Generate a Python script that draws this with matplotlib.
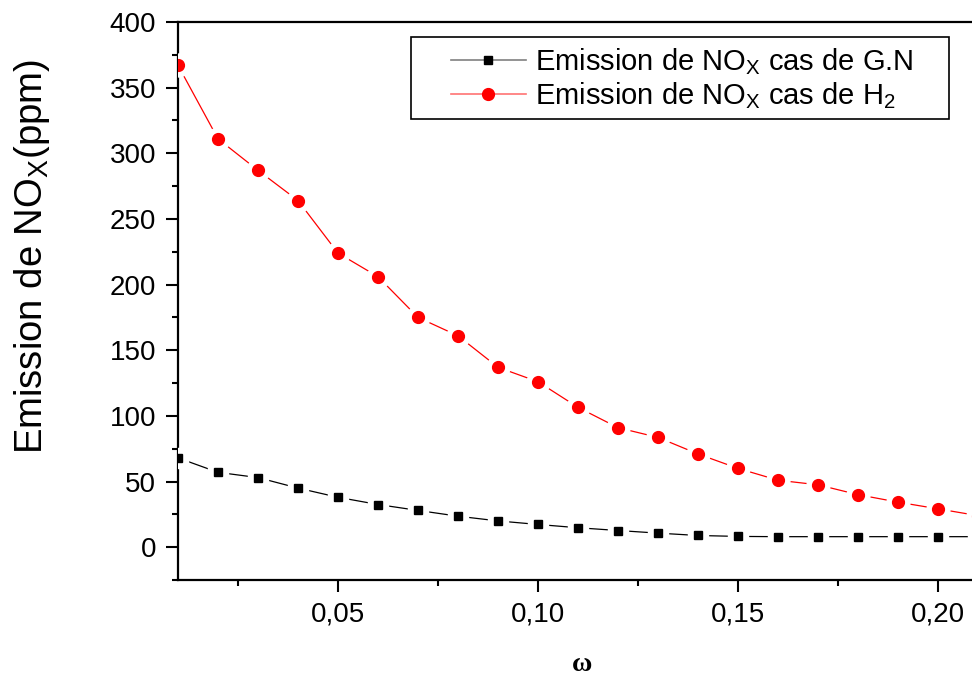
import matplotlib
matplotlib.use("Agg")
import matplotlib.pyplot as plt
from matplotlib.ticker import MultipleLocator, FuncFormatter
from matplotlib.patches import Rectangle
from matplotlib.lines import Line2D

plt.rcParams['font.family'] = ['Liberation Sans', 'DejaVu Sans']
plt.rcParams['mathtext.default'] = 'regular'

omega = [0.01, 0.02, 0.03, 0.04, 0.05, 0.06, 0.07, 0.08, 0.09, 0.10, 0.11,
         0.12, 0.13, 0.14, 0.15, 0.16, 0.17, 0.18, 0.19, 0.20, 0.21]
nox_gn = [68, 57, 53, 45, 38, 32.5, 28, 23.6, 20, 17.3, 14.8,
          12.7, 10.7, 8.9, 8.2, 8, 8, 8, 8, 8, 8]
nox_h2 = [367, 311, 287, 264, 224, 206, 175, 161, 137, 126, 106.5,
          91, 83.6, 71, 60, 51, 47.5, 40, 34.3, 29.2, 24]

label_gn = "Emission de NO$_{X}$ cas de G.N"
label_h2 = "Emission de NO$_{X}$ cas de H$_{2}$"

W, H = 972, 677
fig = plt.figure(figsize=(W / 100, H / 100), dpi=100)
ax = fig.add_axes([178 / W, 97 / H, 1 - 178 / W, 558 / H])

def draw(x, y, color, marker, ms):
    ax.plot(x, y, '-', color=color, lw=0.9, zorder=2)
    ax.plot(x, y, linestyle='none', marker=marker, ms=ms + 8, color='white',
            mec='white', zorder=3)
    ax.plot(x, y, linestyle='none', marker=marker, ms=ms, color=color,
            mec=color, zorder=4)

draw(omega, nox_gn, 'black', 's', 6)
draw(omega, nox_h2, 'red', 'o', 8.5)

ax.set_xlim(0.01, 0.2085)
ax.set_ylim(-25, 400)
ax.xaxis.set_major_locator(MultipleLocator(0.05))
ax.xaxis.set_minor_locator(MultipleLocator(0.025))
ax.yaxis.set_major_locator(MultipleLocator(50))
ax.yaxis.set_minor_locator(MultipleLocator(25))
ax.xaxis.set_major_formatter(FuncFormatter(lambda v, p: f"{v:.2f}".replace('.', ',')))
ax.yaxis.set_major_formatter(FuncFormatter(lambda v, p: f"{v:.0f}"))

ax.spines['right'].set_visible(False)
for s in ['left', 'bottom', 'top']:
    ax.spines[s].set_linewidth(1.6)
ax.tick_params(which='major', direction='out', length=8.6, width=1.5,
               labelsize=20, pad=7)
ax.tick_params(which='minor', direction='out', length=4.5, width=1.5)
ax.tick_params(axis='x', which='both', top=False)

ax.set_ylabel("Emission de NO$_{X}$(ppm)", fontsize=27.5)
ax.yaxis.set_label_coords((52 - 178) / 794, (580 - 256) / 558)
ax.set_xlabel("ω", fontsize=20, family=['Liberation Serif', 'DejaVu Serif'],
              fontweight='bold')
ax.xaxis.set_label_coords((582 - 178) / 794, (580 - 652) / 558)

handles = [
    Line2D([], [], color=(0.5, 0.5, 0.5), lw=1.2, marker='s', ms=6,
           mfc='black', mec='black'),
    Line2D([], [], color=(1.0, 0.45, 0.45), lw=1.2, marker='o', ms=8.5,
           mfc='red', mec='red'),
]
leg = fig.legend(handles, [label_gn, label_h2], loc='upper left',
                 bbox_to_anchor=(451 / W, 1 - 46 / H), fontsize=21,
                 frameon=False, borderpad=0, borderaxespad=0,
                 handlelength=2.57, handletextpad=0.3, labelspacing=0.12)
fig.add_artist(Rectangle((411 / W, 1 - 119 / H), (949 - 411) / W, 82 / H,
                         transform=fig.transFigure, fill=False,
                         edgecolor='black', lw=1.2))

fig.savefig("out.png", dpi=100)
